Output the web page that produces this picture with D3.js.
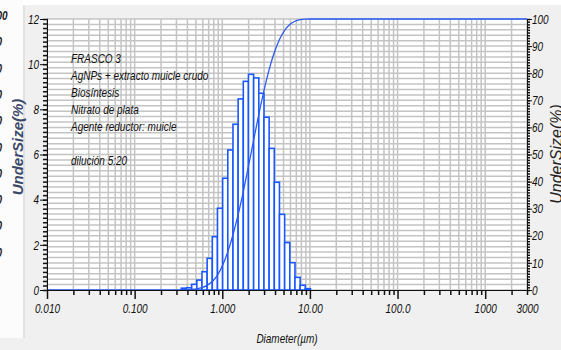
<!DOCTYPE html>
<html><head><meta charset="utf-8">
<script src="https://cdn.jsdelivr.net/npm/d3@7"></script>
<style>body{margin:0;background:#f0f0f0;overflow:hidden}svg{display:block}</style>
</head><body><svg id="c" width="561" height="350"></svg>
<script>
// ---------- data ----------
const binEdges = [0.3409,0.3905,0.4472,0.5122,0.5867,0.6720,0.7697,0.8816,1.0097,1.1565,1.3246,1.5172,1.7377,1.9904,2.2797,2.6111,2.9907,3.4255,3.9234,4.4938,5.1471,5.8953,6.7523,7.7340,8.8583,10.1460];
const frequency = [0.08,0.10,0.25,0.44,0.81,1.40,2.36,3.62,4.95,6.20,7.34,8.46,9.24,9.55,9.39,8.71,7.65,6.27,4.77,3.35,2.10,1.21,0.56,0.21,0.06];
const undersize = [0,0.08,0.18,0.43,0.88,1.70,3.11,5.49,9.14,14.14,20.40,27.81,36.34,45.67,55.31,64.79,73.58,81.30,87.63,92.44,95.82,97.94,99.16,99.73,99.94,100];
const xMajorTicks = [0.01,0.1,1,10,100,1000];
const xMinorTicks = [0.02,0.03,0.04,0.05,0.06,0.07,0.08,0.09,0.2,0.3,0.4,0.5,0.6,0.7,0.8,0.9,2,3,4,5,6,7,8,9,20,30,40,50,60,70,80,90,200,300,400,500,600,700,800,900,2000,3000];
const xLabelValues = [0.01,0.1,1,10,100,1000,3000];
const xLabelTexts = ["0.010","0.100","1.000","10.00","100.0","1000","3000"];
const yLeftTicks = [0,2,4,6,8,10,12];
const yRightTicks = [0,10,20,30,40,50,60,70,80,90,100];
const annotation = ["FRASCO 3","AgNPs + extracto muicle crudo","Biosíntesis","Nitrato de plata","Agente reductor: muicle","","dilución 5:20"];
const fragmentLabels = ["100","90","80","70","60","50","40","30","20","10"];

// ---------- setup ----------
const svg = d3.select("#c");
function measure(fam){const t=svg.append("text").attr("font-family",fam).attr("font-size",100).text("0000000000");const w=t.node().getComputedTextLength();t.remove();return w;}
const wN = measure('"Liberation Sans Narrow","Liberation Sans"'), wR = measure('"Liberation Sans"');
const hasNarrow = wN < wR*0.95;
const FAM = hasNarrow ? '"Liberation Sans Narrow","Arial Narrow",sans-serif' : '"Liberation Sans",Arial,sans-serif';
const FS = 13;
const SX = hasNarrow ? (10/FS)/0.82 : 10/FS;

const L=47,R=527,T=19,B=290;
const x = d3.scaleLog().domain([0.01,3000]).range([L,R]);
const yL = d3.scaleLinear().domain([0,12]).range([B,T]);
const yR = d3.scaleLinear().domain([0,100]).range([B,T]);

// backgrounds
svg.append("rect").attr("x",0).attr("y",0).attr("width",561).attr("height",5).attr("fill","#fff");
svg.append("rect").attr("x",0).attr("y",0).attr("width",23).attr("height",338).attr("fill","#fcfcfc");
svg.append("rect").attr("x",23).attr("y",5).attr("width",2).attr("height",333).attr("fill","#e2e2e2");
svg.append("rect").attr("x",L).attr("y",T).attr("width",R-L).attr("height",B-T).attr("fill","#fff");

function txt(g,px,py,s,anchor,size,extra){
  const t=g.append("text").attr("transform",`translate(${px},${py}) scale(${SX},1)`)
   .attr("text-anchor",anchor).attr("font-family",FAM).attr("font-size",size).attr("font-style","italic").attr("fill","#111").text(s);
  if(extra) extra(t);
  return t;
}

// fragment of neighbouring chart on the left
const frag = svg.append("g");
fragmentLabels.forEach((s,i)=>{ txt(frag,-9,15+26.3*i+5,s,"start",FS,t=>t.attr("font-weight","bold").attr("fill","#1a1a1a")); });
frag.append("text").attr("transform","translate(23,147) rotate(-90)").attr("text-anchor","middle")
  .attr("font-family",'"Liberation Sans",Arial,sans-serif').attr("font-size",15).attr("font-weight","bold").attr("font-style","italic")
  .attr("fill","#3b4868").text("UnderSize(%)");

// grid
const grid = svg.append("g").attr("stroke","#c4c4c4").attr("stroke-width",1.5);
d3.range(0,101,2).forEach(p=>grid.append("line").attr("x1",L).attr("x2",R).attr("y1",yR(p)).attr("y2",yR(p)));
xMajorTicks.concat(xMinorTicks).forEach(v=>grid.append("line").attr("x1",x(v)).attr("x2",x(v)).attr("y1",T).attr("y2",B));

// bars
const BLUE="#1a58ff";
svg.append("g").selectAll("rect").data(frequency).join("rect")
  .attr("x",(d,i)=>x(binEdges[i])).attr("width",(d,i)=>x(binEdges[i+1])-x(binEdges[i]))
  .attr("y",d=>yL(d)).attr("height",d=>yL(0)-yL(d))
  .attr("fill","#fff").attr("stroke",BLUE).attr("stroke-width",1.6);

// cumulative curve
const pts = [[0.01,0]].concat(binEdges.map((e,i)=>[e,undersize[i]])).concat([[3000,100]]);
svg.append("path").datum(pts).attr("fill","none").attr("stroke","#2a5af2").attr("stroke-width",1.3)
  .attr("d",d3.line().x(d=>x(d[0])).y(d=>yR(d[1])).curve(d3.curveMonotoneX));

// axes
function styleAxis(g){g.selectAll("line").attr("stroke","#111");g.selectAll("path.domain").attr("stroke","#111");}
function fixText(g){g.selectAll("text").each(function(){const t=d3.select(this);const tx=+t.attr("x")||0;t.attr("x",null).attr("transform",`translate(${tx},0) scale(${SX},1)`)
   .attr("font-family",FAM).attr("font-size",FS).attr("font-style","italic").attr("fill","#111");});}

// bottom
const gb = svg.append("g").attr("transform",`translate(0,${B})`);
gb.append("g").call(d3.axisBottom(x).tickValues(xMinorTicks).tickSize(5).tickFormat("")).call(g=>g.select(".domain").remove()).call(styleAxis).selectAll("line").attr("stroke-width",1.5);
gb.append("g").call(d3.axisBottom(x).tickValues(xMajorTicks).tickSize(9).tickSizeOuter(0).tickFormat("")).call(styleAxis).selectAll(".tick line").attr("stroke-width",1.5);
gb.append("g").call(d3.axisBottom(x).tickValues(xLabelValues).tickSize(0).tickPadding(14).tickFormat((d,i)=>xLabelTexts[i]))
  .call(g=>g.select(".domain").remove()).call(fixText);

// left
const gl = svg.append("g").attr("transform",`translate(${L},0)`);
gl.append("g").call(d3.axisLeft(yL).tickValues(d3.range(0,12.01,0.2)).tickSize(4).tickFormat("")).call(g=>g.select(".domain").remove()).call(styleAxis).selectAll("line").attr("stroke-width",1.5).attr("x2",-4).attr("x1",1);
gl.append("g").call(d3.axisLeft(yL).tickValues(yLeftTicks).tickSize(7).tickSizeOuter(0).tickPadding(1)).call(styleAxis).call(fixText);

// right
const gr = svg.append("g").attr("transform",`translate(${R},0)`);
gr.append("g").call(d3.axisRight(yR).tickValues(d3.range(0,101,1)).tickSize(3).tickFormat("")).call(g=>g.select(".domain").remove()).call(styleAxis).selectAll("line").attr("stroke-width",1.5);
gr.append("g").call(d3.axisRight(yR).tickValues(yRightTicks).tickSize(5).tickSizeOuter(0).tickPadding(0)).call(styleAxis).call(fixText);

// annotation
const ga = svg.append("g");
annotation.forEach((s,i)=>{ if(s) txt(ga,71,63+17*i,s,"start",FS); });

// axis titles
txt(svg,287,343,"Diameter(µm)","middle",FS);
svg.append("text").attr("transform","translate(562,154) rotate(-90)").attr("text-anchor","middle")
  .attr("font-family",'"Liberation Sans",Arial,sans-serif').attr("font-size",16).attr("font-style","italic")
  .attr("fill","#222").text("UnderSize(%)");
</script></body></html>
